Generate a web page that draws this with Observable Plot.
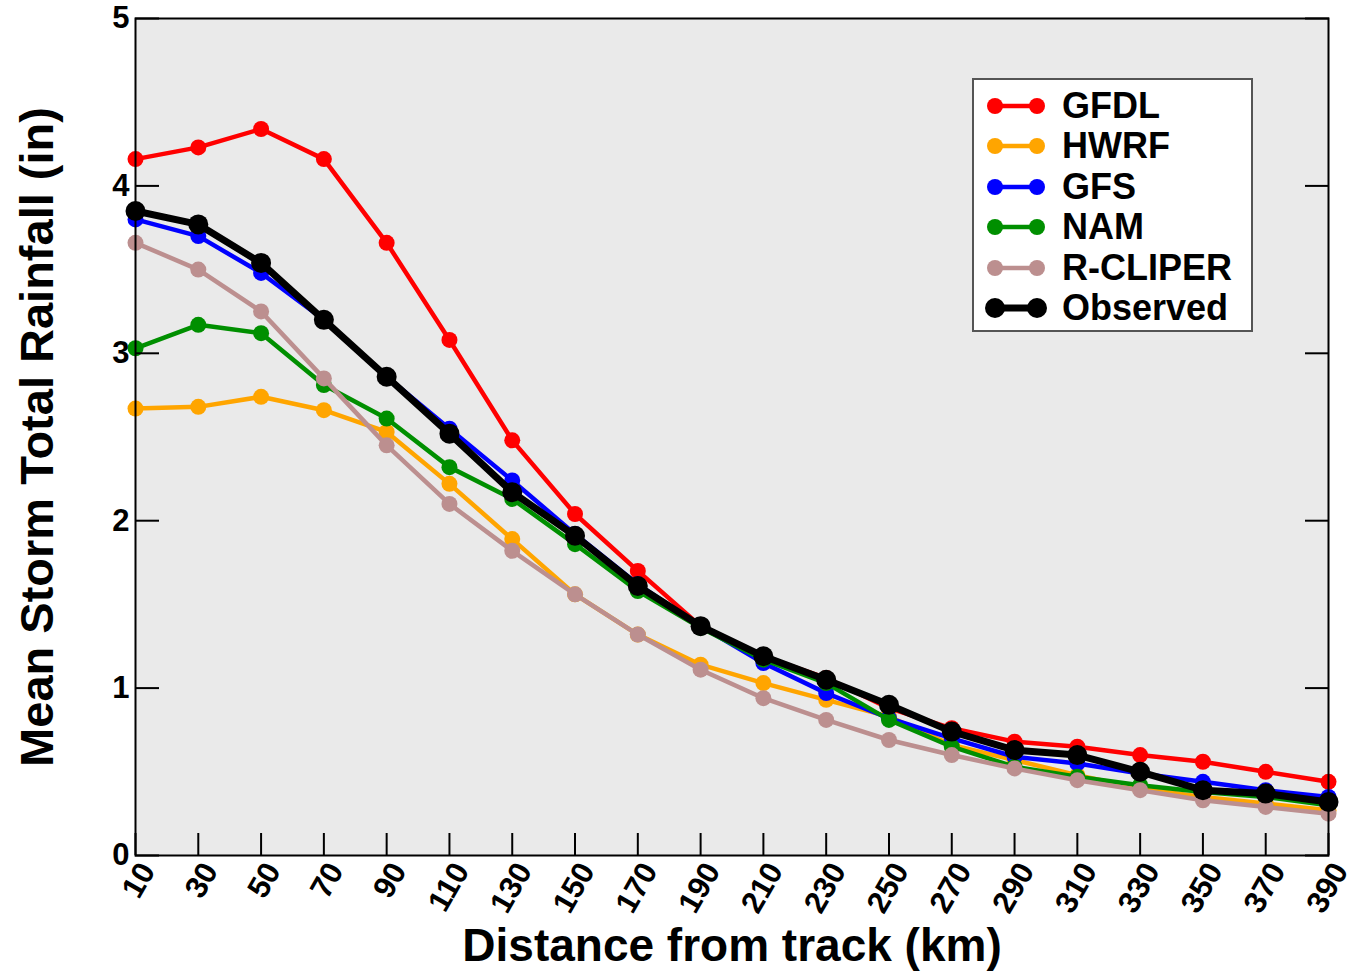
<!DOCTYPE html>
<html>
<head>
<meta charset="utf-8">
<script src="https://cdn.jsdelivr.net/npm/d3@7"></script>
<script src="https://cdn.jsdelivr.net/npm/@observablehq/plot@0.6"></script>
<style>
  body { margin: 0; background: #fff; }
  #wrap { position: relative; width: 1354px; height: 973px; }
  #legend {
    position: absolute; left: 972px; top: 78px; width: 281px; height: 254px;
    box-sizing: border-box; background: #fff; border: 2px solid #555;
    font-family: "Liberation Sans", Arial, sans-serif; font-weight: bold; font-size: 36px;
  }
  .row { position: absolute; left: 0; height: 40px; display: flex; align-items: center; }
  .row svg { margin-left: 10px; }
  .row span { margin-left: 14px; line-height: 1; }
</style>
</head>
<body>
<div id="wrap"><div id="chart"></div><div id="legend"></div></div>
<script>
const distances = [10, 30, 50, 70, 90, 110, 130, 150, 170, 190, 210, 230, 250, 270, 290, 310, 330, 350, 370, 390];
const yTicks = [0, 1, 2, 3, 4, 5];

const gfdl     = [4.16, 4.23, 4.34, 4.16, 3.66, 3.08, 2.48, 2.04, 1.70, 1.37, 1.19, 1.06, 0.88, 0.76, 0.68, 0.65, 0.60, 0.56, 0.50, 0.44];
const hwrf     = [2.67, 2.68, 2.74, 2.66, 2.53, 2.22, 1.89, 1.56, 1.32, 1.14, 1.03, 0.93, 0.83, 0.66, 0.57, 0.48, 0.40, 0.35, 0.31, 0.27];
const gfs      = [3.80, 3.70, 3.48, 3.20, 2.86, 2.55, 2.24, 1.92, 1.62, 1.37, 1.15, 0.97, 0.82, 0.70, 0.59, 0.55, 0.49, 0.44, 0.39, 0.35];
const nam      = [3.03, 3.17, 3.12, 2.81, 2.61, 2.32, 2.13, 1.86, 1.58, 1.36, 1.17, 1.03, 0.81, 0.65, 0.53, 0.47, 0.42, 0.38, 0.35, 0.30];
const rcliper  = [3.66, 3.50, 3.25, 2.85, 2.45, 2.10, 1.82, 1.56, 1.32, 1.11, 0.94, 0.81, 0.69, 0.60, 0.52, 0.45, 0.39, 0.33, 0.29, 0.25];
const observed = [3.85, 3.77, 3.54, 3.20, 2.86, 2.52, 2.17, 1.91, 1.61, 1.37, 1.19, 1.05, 0.90, 0.74, 0.63, 0.60, 0.50, 0.39, 0.37, 0.32];

const seriesNames  = ["GFDL", "HWRF", "GFS", "NAM", "R-CLIPER", "Observed"];
const seriesColors = ["#ff0000", "#ffa500", "#0000ff", "#008f00", "#bc8f8f", "#000000"];
const seriesValues = [gfdl, hwrf, gfs, nam, rcliper, observed];

const xTitle = "Distance from track (km)";
const yTitle = "Mean Storm Total Rainfall (in)";

const marks = [];
marks.push(Plot.frame({fill: "#eaeaea"}));
seriesNames.forEach((name, k) => {
  const rows = distances.map((d, i) => ({x: d, y: seriesValues[k][i]}));
  const isObs = name === "Observed";
  marks.push(Plot.line(rows, {x: "x", y: "y", stroke: seriesColors[k], strokeWidth: isObs ? 7 : 4.5}));
  marks.push(Plot.dot(rows, {x: "x", y: "y", fill: seriesColors[k], r: isObs ? 10 : 8}));
});
marks.push(Plot.frame({stroke: "black", strokeWidth: 2}));
// tick labels
marks.push(Plot.axisY({anchor: "left", ticks: yTicks, tickFormat: d => String(d), tickSize: 0, tickPadding: 6, fontSize: 31, label: null}));
marks.push(Plot.axisX({anchor: "bottom", ticks: distances, tickFormat: d => String(d), tickSize: 0, tickPadding: 10, tickRotate: -60, fontSize: 31, label: null, textAnchor: "end", dx: 12}));
// inward tick marks
marks.push(Plot.axisY({anchor: "left", ticks: yTicks, tickSize: 24, dx: 24, text: null, label: null, strokeWidth: 2}));
marks.push(Plot.axisY({anchor: "right", ticks: yTicks, tickSize: 24, dx: -24, text: null, label: null, strokeWidth: 2}));
marks.push(Plot.axisX({anchor: "bottom", ticks: distances, tickSize: 22, dy: -22, text: null, label: null, strokeWidth: 2}));
// titles
marks.push(Plot.text([xTitle], {frameAnchor: "bottom", dy: 105, fontSize: 46, fontWeight: "bold"}));
marks.push(Plot.text([yTitle], {frameAnchor: "left", textAnchor: "middle", dx: -98, rotate: -90, fontSize: 47, fontWeight: "bold"}));

const chart = Plot.plot({
  width: 1354, height: 973,
  marginLeft: 135, marginRight: 26, marginTop: 18, marginBottom: 118,
  x: {domain: [10, 390]},
  y: {domain: [0, 5]},
  style: {fontFamily: "'Liberation Sans', Arial, sans-serif", fontWeight: "bold", background: "white", color: "black", overflow: "visible"},
  marks
});
document.getElementById("chart").append(chart);

// legend
const legend = d3.select("#legend");
seriesNames.forEach((name, k) => {
  const isObs = name === "Observed";
  const row = legend.append("div").attr("class", "row").style("top", (6 + k * 40.4) + "px");
  const svg = row.append("svg").attr("width", 64).attr("height", 24);
  svg.append("line").attr("x1", 11).attr("x2", 53).attr("y1", 12).attr("y2", 12)
    .attr("stroke", seriesColors[k]).attr("stroke-width", isObs ? 7 : 4.5);
  [11, 53].forEach(cx => svg.append("circle").attr("cx", cx).attr("cy", 12).attr("r", isObs ? 10 : 8).attr("fill", seriesColors[k]));
  row.append("span").text(name);
});
</script>
</body>
</html>
